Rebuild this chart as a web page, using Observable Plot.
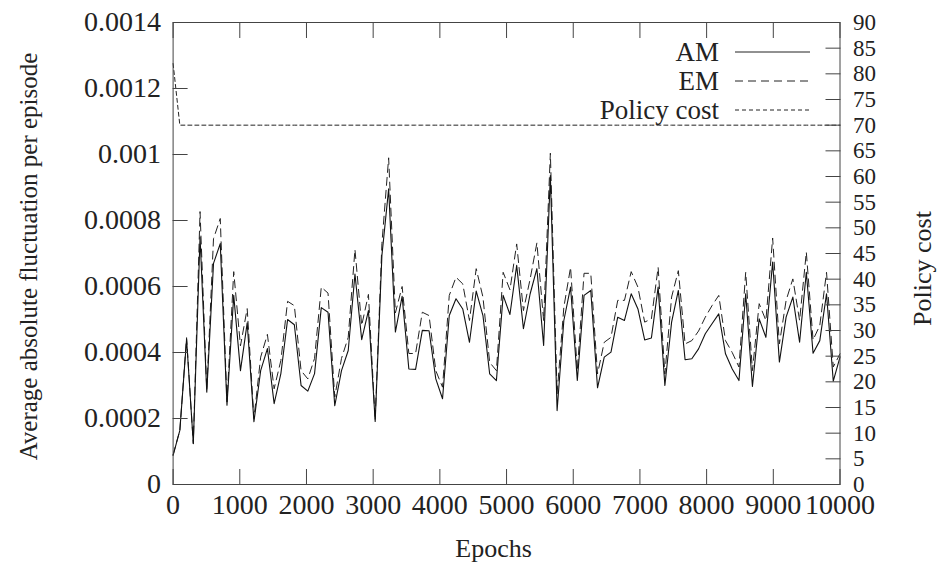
<!DOCTYPE html>
<html><head><meta charset="utf-8">
<script src="https://cdn.jsdelivr.net/npm/d3@7"></script>
<script src="https://cdn.jsdelivr.net/npm/@observablehq/plot@0.6"></script>
<style>
html,body{margin:0;padding:0;background:#fff;}
#wrap{position:relative;width:940px;height:571px;font-family:'Liberation Serif','DejaVu Serif',serif;color:#222;overflow:hidden;}
.lg{position:absolute;right:130px;display:flex;align-items:center;gap:16px;font-size:27px;line-height:30px;height:30px;}
.lg svg{display:block;}
#wrap svg text{font-family:'Liberation Serif','DejaVu Serif',serif;}
</style></head><body><div id="wrap"></div>
<script>
const epochs = [0,101,202,303,404,505,606,707,808,909,1010,1111,1212,1313,1414,1515,1616,1717,1818,1919,2020,2121,2222,2323,2424,2525,2626,2727,2828,2929,3030,3131,3232,3333,3434,3535,3636,3737,3838,3939,4040,4141,4242,4343,4444,4545,4646,4747,4848,4949,5051,5152,5253,5354,5455,5556,5657,5758,5859,5960,6061,6162,6263,6364,6465,6566,6667,6768,6869,6970,7071,7172,7273,7374,7475,7576,7677,7778,7879,7980,8081,8182,8283,8384,8485,8586,8687,8788,8889,8990,9091,9192,9293,9394,9495,9596,9697,9798,9899,10000];
const amFluct = [0.000088,0.000164,0.00044,0.000124,0.00075,0.00028,0.00067,0.00073,0.00024,0.000573,
0.000345,0.00049,0.00019,0.000345,0.000412,0.000245,0.000336,0.0005,0.000484,0.0003,
0.000283,0.000336,0.000536,0.000522,0.000239,0.000345,0.000406,0.000638,0.000439,0.000527,
0.000191,0.000694,0.000896,0.000462,0.00057,0.00035,0.000349,0.000467,0.000466,0.00032,
0.00026,0.000512,0.000563,0.000532,0.000431,0.000586,0.000512,0.000335,0.000315,0.000573,
0.000515,0.000664,0.000472,0.000578,0.000654,0.000421,0.000936,0.000224,0.000497,0.000598,
0.000315,0.000573,0.000588,0.000293,0.000386,0.000401,0.000507,0.000497,0.000578,0.000532,
0.000438,0.000444,0.000598,0.0003,0.000492,0.000588,0.000378,0.000381,0.000411,0.000457,
0.000487,0.000517,0.000396,0.00035,0.000315,0.000578,0.000297,0.000502,0.000446,0.000674,
0.000371,0.000507,0.000568,0.000431,0.000643,0.000398,0.000436,0.000578,0.000313,0.000386];
const emFluct = [0.00009,0.000164,0.000445,0.000124,0.000827,0.000285,0.000745,0.000806,0.00025,0.000645,
0.00042,0.000533,0.0002,0.000386,0.000455,0.00029,0.000376,0.000555,0.000542,0.000345,
0.00032,0.000382,0.000598,0.00058,0.000265,0.000382,0.000446,0.000712,0.000482,0.000576,
0.000195,0.00073,0.00099,0.00052,0.0006,0.000397,0.000397,0.000522,0.000512,0.000345,
0.000295,0.000573,0.000628,0.000608,0.000497,0.000654,0.000568,0.00037,0.000345,0.000643,
0.00059,0.000729,0.000527,0.000623,0.000732,0.000497,0.001004,0.000275,0.000537,0.000658,
0.000345,0.00064,0.00064,0.000335,0.000431,0.000446,0.000558,0.000558,0.000645,0.000598,
0.000492,0.000502,0.000658,0.000335,0.000568,0.000648,0.000426,0.000436,0.000465,0.000507,
0.000542,0.000573,0.000436,0.0004,0.000356,0.000643,0.000345,0.000548,0.000497,0.000747,
0.000426,0.000558,0.000623,0.000497,0.000704,0.000438,0.000482,0.000643,0.000356,0.000396];
const policyCost = [82,70,70,70,70,70,70,70,70,70,
70,70,70,70,70,70,70,70,70,70,
70,70,70,70,70,70,70,70,70,70,
70,70,70,70,70,70,70,70,70,70,
70,70,70,70,70,70,70,70,70,70,
70,70,70,70,70,70,70,70,70,70,
70,70,70,70,70,70,70,70,70,70,
70,70,70,70,70,70,70,70,70,70,
70,70,70,70,70,70,70,70,70,70,
70,70,70,70,70,70,70,70,70,70];
const xTicks = [0,1000,2000,3000,4000,5000,6000,7000,8000,9000,10000];
const yTicks = [0,0.0002,0.0004,0.0006,0.0008,0.001,0.0012,0.0014];
const costTicks = [0,5,10,15,20,25,30,35,40,45,50,55,60,65,70,75,80,85,90];
const seriesNames = ["AM","EM","Policy cost"];
const xTitle = "Epochs", yTitle = "Average absolute fluctuation per episode", y2Title = "Policy cost";

const yMax = 0.0014, costMax = 90;
const toY = c => c * yMax / costMax;
const rows = epochs.map((e,i)=>({epoch:e, am:amFluct[i], em:emFluct[i], cost:policyCost[i]}));

const FONT = "'Liberation Serif','DejaVu Serif',serif";
const ink = "#222", frameInk = "#444";
const chart = Plot.plot({
  width:940, height:571, marginLeft:172.6, marginRight:100.5, marginTop:22, marginBottom:87,
  style:{fontFamily:FONT, fontSize:"28px", color:ink, background:"#fff"},
  x:{domain:[0,10000]},
  y:{domain:[0,yMax]},
  marks:[
    Plot.line(rows,{x:"epoch", y:d=>toY(d.cost), stroke:"#222", strokeWidth:1, strokeDasharray:"4,3"}),
    Plot.line(rows,{x:"epoch", y:"em", stroke:"#222", strokeWidth:1, strokeDasharray:"8,5"}),
    Plot.line(rows,{x:"epoch", y:"am", stroke:"#111", strokeWidth:1.1}),
    Plot.frame({stroke:frameInk}),
    Plot.axisX({anchor:"bottom", ticks:xTicks, tickSize:0, tickPadding:10, tickFormat:d=>String(d), label:null}),
    Plot.axisX({anchor:"bottom", ticks:xTicks, tickSize:15, dy:-15, fill:"none", label:null, stroke:frameInk}),
    Plot.axisX({anchor:"top", ticks:xTicks, tickSize:15, dy:15, fill:"none", label:null, stroke:frameInk}),
    Plot.axisY({anchor:"left", ticks:yTicks, tickSize:0, tickPadding:12, tickFormat:d=>String(+d.toFixed(4)), label:null}),
    Plot.axisY({anchor:"left", ticks:yTicks, tickSize:15, dx:15, fill:"none", label:null, stroke:frameInk}),
    Plot.axisY({anchor:"right", ticks:costTicks.map(toY), tickSize:0, tickPadding:13, fontSize:23, tickFormat:v=>String(Math.round(v*costMax/yMax)), label:null}),
    Plot.axisY({anchor:"right", ticks:costTicks.map(toY), tickSize:15, dx:-15, fill:"none", label:null, stroke:frameInk}),
    Plot.text([xTitle], {text:d=>d, frameAnchor:"bottom", textAnchor:"middle", dx:-13, dy:64, lineAnchor:"middle", fontSize:26, fill:ink}),
    Plot.text([yTitle], {text:d=>d, frameAnchor:"left", textAnchor:"middle", dx:-144.6, dy:3, rotate:-90, lineAnchor:"middle", fontSize:25, fill:ink}),
    Plot.text([y2Title], {text:d=>d, frameAnchor:"right", textAnchor:"middle", dx:83, dy:15, rotate:-90, lineAnchor:"middle", fontSize:26, fill:ink})
  ]
});
const wrap = document.getElementById("wrap");
wrap.appendChild(chart);

const dashes = [null, "8,5", "4,3"];
const rowTops = [37, 66, 95];
seriesNames.forEach((name,i)=>{
  const d = document.createElement("div");
  d.className = "lg";
  d.style.top = rowTops[i] + "px";
  d.innerHTML = `<span>${name}</span><svg width="75" height="4"><line x1="0" y1="2" x2="75" y2="2" stroke="#222" stroke-width="1" ${dashes[i] ? `stroke-dasharray="${dashes[i]}"` : ""}/></svg>`;
  wrap.appendChild(d);
});
</script></body></html>
